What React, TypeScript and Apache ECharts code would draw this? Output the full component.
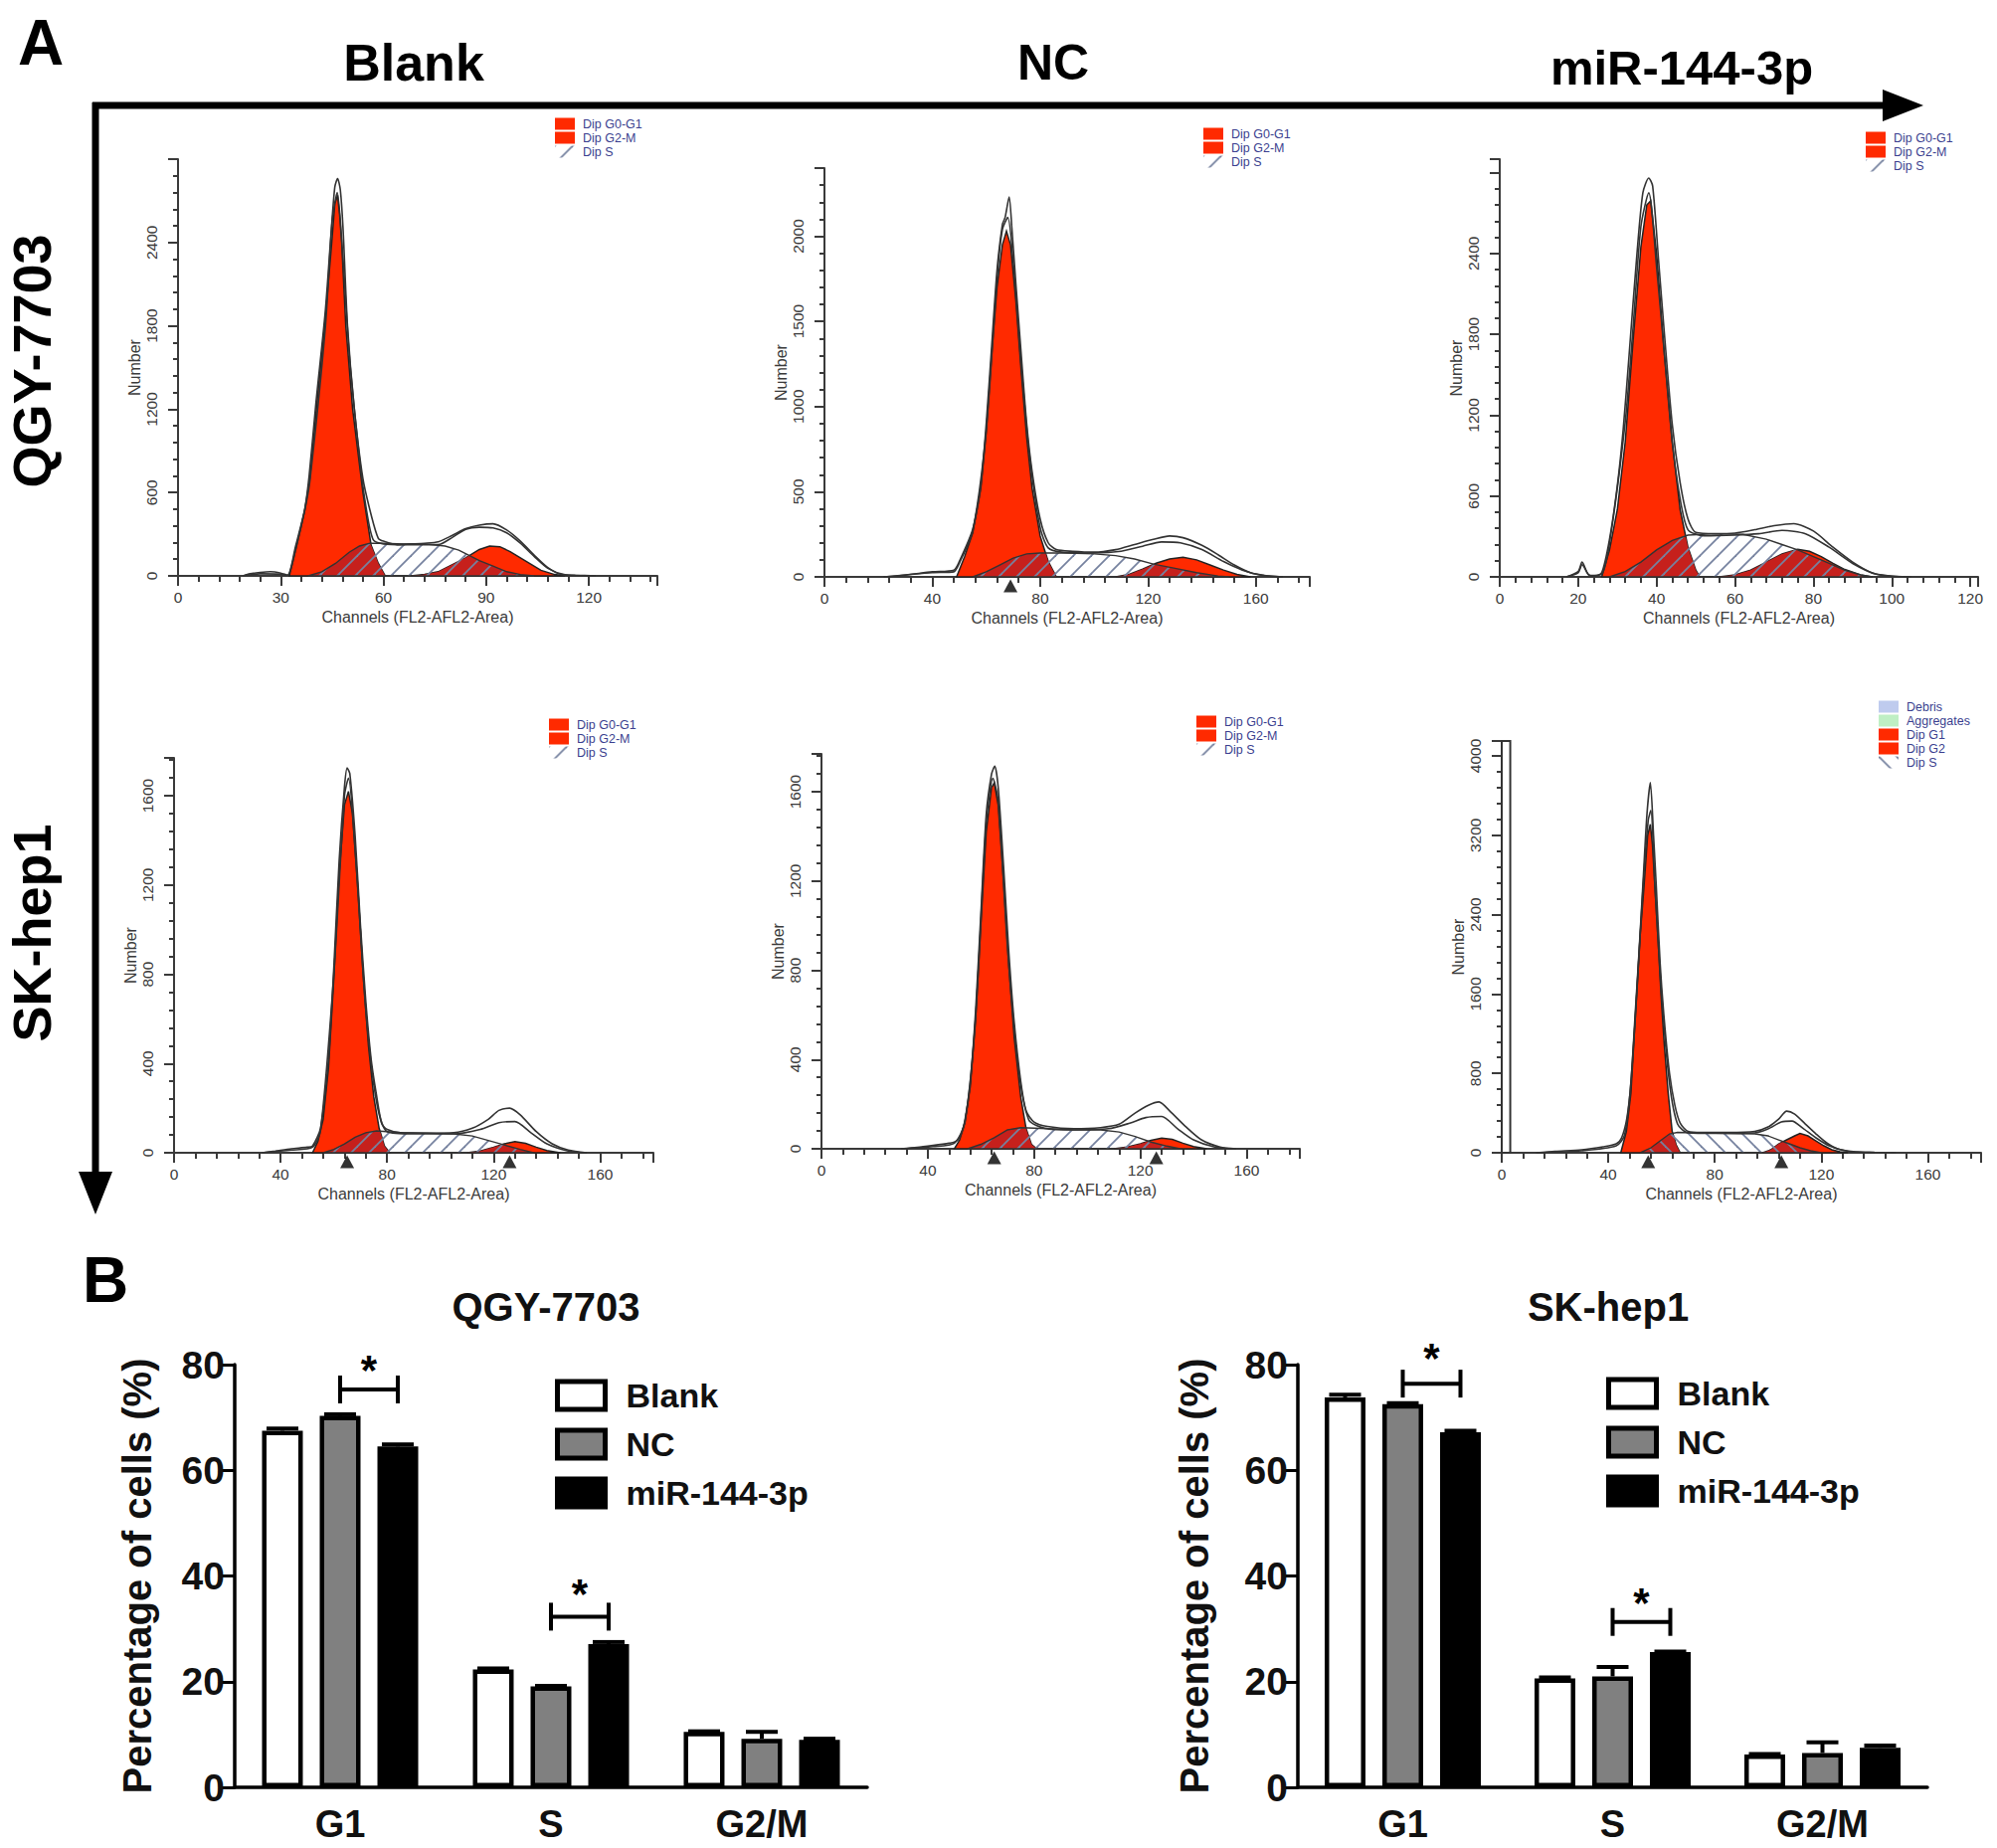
import React, { useEffect, useRef } from "react";
import * as echarts from "echarts";

type Pt = number[];

// ---------- Panel A: channel / count curves ----------
const p1G1: Pt[] = [[32.5,0],[34.5,200],[37,470],[38.5,700],[40.5,1230],[43,1850],[44.9,2400],[45.8,2680],[46.6,2740],[47.2,2600],[47.8,2400],[49,1800],[51,1200],[54,600],[56.4,220],[58.5,90],[60.5,0]];
const p1S: Pt[] = [[38,0],[42,30],[46,90],[50,170],[53,215],[56,235],[60,235],[66,230],[72,230],[78,215],[82,185],[84,160],[88,110],[92,70],[96,30],[100,10],[104,0]];
const p1G2: Pt[] = [[68,0],[72,10],[76,30],[80,80],[84,130],[88,190],[91,215],[94,210],[97,175],[100,130],[103,85],[106,40],[110,10],[113,0]];
const p1Env1: Pt[] = [[19,0],[21,15],[24,25],[27,30],[30,20],[32,5],[34.3,210],[37,480],[38.3,720],[40.3,1250],[43,1900],[44.8,2500],[45.8,2800],[46.6,2860],[47.4,2780],[48.2,2500],[49.5,1800],[51.5,1200],[54,700],[56.5,430],[58.5,270],[60,250],[64,225],[68,230],[72,235],[76,245],[80,290],[84,340],[88,365],[92,375],[96,330],[100,250],[104,150],[108,60],[112,10],[116,5],[122,0]];
const p1Env2: Pt[] = [[19,0],[24,15],[30,12],[32,3],[34.4,200],[37,470],[38.5,680],[43,1780],[45,2550],[46.5,2760],[48,2350],[50,1600],[53,850],[55,480],[57,260],[60,230],[66,225],[72,225],[76,225],[80,275],[84,335],[88,350],[92,345],[96,310],[100,235],[104,140],[108,55],[113,8],[120,0]];

const p2G1: Pt[] = [[49,0],[52,120],[55,260],[58,520],[60,850],[62,1300],[64,1700],[66,1950],[67.5,2030],[69,1950],[71,1620],[73,1200],[75,820],[77,520],[80,240],[83,90],[86,0]];
const p2S: Pt[] = [[55,0],[60,30],[65,70],[70,110],[75,135],[80,140],[90,140],[100,135],[108,125],[115,105],[122,75],[130,50],[138,25],[146,5],[150,0]];
const p2G2: Pt[] = [[108,0],[113,15],[118,45],[123,80],[128,105],[133,115],[138,100],[143,70],[148,40],[153,15],[158,0]];
const p2Env1: Pt[] = [[22,0],[30,10],[40,30],[48,40],[50,90],[55,280],[58,540],[60,900],[62,1350],[64,1800],[66,2070],[67,2110],[68.5,2230],[69.5,2050],[71,1720],[73,1300],[75,900],[77,620],[80,340],[83,200],[86,160],[92,150],[100,145],[108,160],[115,190],[122,220],[128,240],[133,230],[140,185],[146,130],[152,70],[158,25],[165,5],[170,0]];
const p2Env2: Pt[] = [[22,0],[40,25],[48,30],[50,80],[55,270],[60,860],[64,1750],[66,2040],[68,2110],[70,1850],[73,1240],[76,720],[80,290],[83,170],[88,145],[100,140],[110,150],[118,180],[125,205],[132,200],[140,160],[148,90],[155,40],[162,10],[170,0]];

const p3G1: Pt[] = [[26,0],[28,200],[30,500],[32,1000],[34,1750],[36,2450],[37.5,2760],[38.5,2790],[40,2400],[42,1650],[44,1000],[46,500],[48,220],[50,50],[51,0]];
const p3S: Pt[] = [[28,0],[32,40],[36,110],[40,200],[44,270],[48,310],[55,320],[62,315],[68,280],[72,240],[76,200],[80,150],[84,100],[88,50],[92,15],[95,0]];
const p3G2: Pt[] = [[56,0],[60,15],[64,50],[68,110],[72,170],[76,205],[79,190],[82,150],[85,100],[88,55],[92,15],[95,0]];
const p3Env1: Pt[] = [[17,0],[20,40],[21,110],[22.5,20],[24,5],[26,30],[28,280],[30,680],[31.5,1100],[33,1650],[35,2400],[36.5,2850],[38,2960],[39,2900],[40.5,2350],[42,1800],[44,1130],[46,700],[48,430],[50,330],[55,320],[60,325],[65,350],[70,380],[75,395],[80,340],[85,220],[90,110],[95,30],[100,5],[105,0]];
const p3Env2: Pt[] = [[17,0],[20,30],[21,90],[23,10],[26,20],[28,250],[32,1150],[34,1850],[36,2600],[38,2850],[40,2300],[42,1650],[44,1000],[46,580],[48,350],[52,305],[60,310],[66,320],[72,345],[78,320],[84,220],[90,100],[96,20],[104,0]];

const p4G1: Pt[] = [[52,0],[54,50],[56,150],[58,380],[60,780],[62,1250],[64,1560],[65.5,1620],[67,1520],[69,1190],[71,800],[73,480],[75,250],[77,110],[79,30],[81,0]];
const p4S: Pt[] = [[56,0],[60,15],[64,40],[68,70],[72,90],[76,98],[85,90],[95,88],[105,85],[112,75],[118,55],[124,35],[130,15],[135,0]];
const p4G2: Pt[] = [[110,0],[115,8],[120,25],[124,40],[128,50],[132,42],[136,25],[140,10],[145,0]];
const p4Env1: Pt[] = [[33,0],[38,8],[44,18],[50,25],[52,30],[55,110],[58,420],[60,830],[62,1310],[64,1640],[65,1725],[66,1700],[68,1420],[70,1020],[72,680],[74,420],[76,260],[78,130],[80,105],[85,90],[95,88],[105,90],[112,110],[118,150],[122,190],[126,200],[130,170],[136,95],[142,40],[148,12],[155,0]];
const p4Env2: Pt[] = [[33,0],[44,12],[52,25],[55,100],[60,800],[64,1600],[65.5,1680],[68,1360],[72,640],[76,230],[80,95],[90,85],[105,85],[115,105],[122,135],[128,140],[134,90],[140,40],[148,8],[155,0]];

const p5G1: Pt[] = [[50,0],[52,40],[54,120],[56,280],[58,580],[60,1010],[62,1420],[64,1620],[65,1640],[66.5,1540],[68.5,1200],[70.5,820],[72.5,500],[75,230],[77,90],[79,20],[81,0]];
const p5S: Pt[] = [[55,0],[60,20],[65,50],[70,85],[75,95],[85,90],[95,85],[105,85],[112,75],[118,55],[124,30],[130,12],[135,0]];
const p5G2: Pt[] = [[110,0],[115,8],[120,22],[124,38],[128,48],[132,42],[136,25],[140,10],[145,0]];
const p5Env1: Pt[] = [[30,0],[36,6],[42,15],[48,25],[50,30],[52,50],[54,130],[56,300],[58,620],[60,1060],[62,1500],[64,1680],[65.2,1715],[66.5,1620],[68.5,1270],[70.5,880],[72.5,570],[75,300],[77,170],[80,120],[85,100],[95,90],[105,95],[112,110],[118,160],[123,195],[127,210],[131,170],[137,100],[143,40],[150,8],[156,0]];
const p5Env2: Pt[] = [[30,0],[42,10],[50,25],[54,120],[58,590],[62,1460],[64.5,1660],[66.5,1560],[70,900],[74,370],[78,130],[84,92],[95,85],[108,90],[116,115],[122,140],[128,145],[134,90],[140,40],[148,8],[156,0]];

const p6G1: Pt[] = [[44.7,0],[46.8,215],[48.5,600],[49.8,1200],[50.7,1600],[52,2200],[53.3,2640],[54.8,3200],[55.8,3310],[56.6,3100],[57.6,2640],[58.8,2100],[59.8,1600],[61,1100],[62.5,600],[64,215],[65.5,80],[67,0]];
const p6S: Pt[] = [[52,0],[56,50],[60,130],[63,190],[66,205],[75,200],[85,195],[95,190],[100,170],[104,130],[108,90],[112,50],[116,20],[120,0]];
const p6G2: Pt[] = [[98,0],[101,30],[104,90],[107,130],[110,170],[112,195],[115,170],[118,120],[121,70],[124,30],[127,10],[130,0]];
const p6Env1: Pt[] = [[13,0],[20,15],[30,30],[38,60],[43,90],[45,150],[47,350],[48.5,700],[50,1350],[51.5,2000],[53,2700],[54.5,3400],[55.8,3730],[57,3200],[58,2700],[59.5,1900],[61,1350],[63,800],[65,480],[67,300],[70,215],[75,205],[85,205],[95,215],[100,260],[104,340],[107,420],[110,390],[114,290],[118,190],[122,100],[126,40],[132,12],[140,5],[148,0]];
const p6Env2: Pt[] = [[13,0],[30,20],[43,70],[46,170],[48,550],[50,1300],[53,2650],[55,3350],[56,3450],[57.5,2700],[60,1600],[63,700],[66,290],[70,200],[80,195],[95,200],[100,240],[105,310],[109,320],[113,250],[118,150],[123,70],[130,15],[140,0]];
const p6Debris: Pt[] = [[0,0],[0,4150],[3.2,4150],[3.2,0]];

const p2Marks = [69];
const p4Marks = [65, 126];
const p5Marks = [65, 126];
const p6Marks = [55, 105];

const legendStd = ["Dip G0-G1", "Dip G2-M", "Dip S"];
const legendSk = ["Debris", "Aggregates", "Dip G1", "Dip G2", "Dip S"];
const columnTitles = ["Blank", "NC", "miR-144-3p"];
const rowTitles = ["QGY-7703", "SK-hep1"];

// ---------- Panel B ----------
const phases = ["G1", "S", "G2/M"];
const groups = ["Blank", "NC", "miR-144-3p"];
const qgyBlank = [67.5, 22.3, 10.5];
const qgyNC = [70.3, 19.1, 9.2];
const qgyMiR = [64.5, 27.1, 9.0];
const qgyBlankErr = [0.4, 0.2, 0.1];
const qgyNCErr = [0.3, 0.1, 1.3];
const qgyMiRErr = [0.4, 0.4, 0.2];
const qgySig = [[0, 75.3, 79], [1, 32.3, 36.7]];
const skBlank = [73.8, 20.6, 6.2];
const skNC = [72.5, 21.0, 6.5];
const skMiR = [67.2, 25.6, 7.5];
const skBlankErr = [0.5, 0.2, 0.1];
const skNCErr = [0.2, 1.8, 2.0];
const skMiRErr = [0.3, 0.1, 0.4];
const skSig = [[0, 76.4, 81.3], [1, 31.3, 35]];

const FONT = "Liberation Sans";
const RED = "#FF2A00";
const INK = "#3a3a3a";

function hatch(forward: boolean) {
  const n = 18;
  const c = document.createElement("canvas");
  c.width = n;
  c.height = n;
  const g = c.getContext("2d")!;
  g.strokeStyle = "#76829f";
  g.lineWidth = 1.8;
  const seg = (a: number, b: number, d: number, e: number) => {
    g.beginPath();
    g.moveTo(a, b);
    g.lineTo(d, e);
    g.stroke();
  };
  if (forward) {
    seg(-2, n + 2, n + 2, -2);
    seg(-2, 2, 2, -2);
    seg(n - 2, n + 2, n + 2, n - 2);
  } else {
    seg(-2, -2, n + 2, n + 2);
    seg(-2, n - 2, 2, n + 2);
    seg(n - 2, -2, n + 2, 2);
  }
  return { image: c, repeat: "repeat" };
}

function at(a: Pt[], x: number) {
  if (x <= a[0][0] || x >= a[a.length - 1][0]) return 0;
  for (let i = 1; i < a.length; i++) {
    if (x <= a[i][0]) {
      const t = (x - a[i - 1][0]) / (a[i][0] - a[i - 1][0]);
      return a[i - 1][1] + t * (a[i][1] - a[i - 1][1]);
    }
  }
  return 0;
}

// the darker red where the S phase lies over a red peak
function shared(a: Pt[], b: Pt[]) {
  const lo = Math.max(a[0][0], b[0][0]);
  const hi = Math.min(a[a.length - 1][0], b[b.length - 1][0]);
  const out: Pt[] = [[lo, 0]];
  for (let x = lo; x <= hi; x += 0.5) out.push([x, Math.min(at(a, x), at(b, x))]);
  out.push([hi, 0]);
  return out;
}

function polygon(name: string, pts: Pt[], grid: number, style: any, color: any) {
  return {
    type: "custom",
    name,
    coordinateSystem: "cartesian2d",
    xAxisIndex: grid,
    yAxisIndex: grid,
    silent: true,
    data: pts,
    encode: { x: 0, y: 1 },
    itemStyle: { color },
    renderItem: (params: any, api: any) =>
      params.dataIndex === 0
        ? { type: "polygon", shape: { points: pts.map((p) => api.coord(p)) }, style }
        : null,
  };
}

function curve(name: string, pts: Pt[], grid: number) {
  return {
    type: "line",
    name,
    xAxisIndex: grid,
    yAxisIndex: grid,
    data: pts,
    showSymbol: false,
    silent: true,
    smooth: 0.25,
    lineStyle: { color: "#333", width: 1.6 },
  };
}

export default function App() {
  const ref = useRef<HTMLDivElement>(null);
  useEffect(() => {
    document.body.style.margin = "0";
    const chart = echarts.init(ref.current!, undefined, { renderer: "svg" });
    const fwd = hatch(true);
    const back = hatch(false);

    const panels = [
      { g: [179, 160, 482, 419], xMax: 140, xInt: 30, yMax: 3000, yInt: 600, yTop: 2400, G1: p1G1, S: p1S, G2: p1G2, e1: p1Env1, e2: p1Env2, marks: [], leg: [558, 118] },
      { g: [829, 169, 488, 411], xMax: 180, xInt: 40, yMax: 2400, yInt: 500, yTop: 2000, G1: p2G1, S: p2S, G2: p2G2, e1: p2Env1, e2: p2Env2, marks: p2Marks, leg: [1210, 128] },
      { g: [1508, 160, 481, 420], xMax: 122, xInt: 20, yMax: 3100, yInt: 600, yTop: 2400, G1: p3G1, S: p3S, G2: p3G2, e1: p3Env1, e2: p3Env2, marks: [], leg: [1876, 132] },
      { g: [175, 762, 482, 397], xMax: 180, xInt: 40, yMax: 1770, yInt: 400, yTop: 1600, G1: p4G1, S: p4S, G2: p4G2, e1: p4Env1, e2: p4Env2, marks: p4Marks, leg: [552, 722] },
      { g: [826, 758, 481, 397], xMax: 180, xInt: 40, yMax: 1770, yInt: 400, yTop: 1600, G1: p5G1, S: p5S, G2: p5G2, e1: p5Env1, e2: p5Env2, marks: p5Marks, leg: [1203, 719] },
      { g: [1510, 745, 482, 414], xMax: 180, xInt: 40, yMax: 4150, yInt: 800, yTop: 4000, G1: p6G1, S: p6S, G2: p6G2, e1: p6Env1, e2: p6Env2, marks: p6Marks, leg: [1889, 704] },
    ];

    const grids: any[] = [];
    const xAxes: any[] = [];
    const yAxes: any[] = [];
    const series: any[] = [];
    const legends: any[] = [];
    const tickStyle = { color: INK, width: 2 };

    panels.forEach((p, i) => {
      const sk = i === 5;
      const pattern = sk ? back : fwd;
      const g1Name = sk ? "Dip G1" : "Dip G0-G1";
      const g2Name = sk ? "Dip G2" : "Dip G2-M";
      grids.push({ left: p.g[0], top: p.g[1], width: p.g[2], height: p.g[3] });
      xAxes.push({
        type: "value",
        gridIndex: i,
        min: 0,
        max: p.xMax,
        interval: p.xInt,
        name: "Channels (FL2-AFL2-Area)",
        nameLocation: "middle",
        nameGap: 33,
        nameTextStyle: { fontFamily: FONT, fontSize: 16, color: INK },
        splitLine: { show: false },
        axisLine: { onZero: false, lineStyle: { color: INK, width: 2 } },
        axisTick: { length: 10, lineStyle: tickStyle },
        minorTick: { show: true, splitNumber: 5, length: 6, lineStyle: tickStyle },
        axisLabel: { fontFamily: FONT, fontSize: 15.5, color: INK, margin: 13, showMaxLabel: false },
      });
      yAxes.push({
        type: "value",
        gridIndex: i,
        min: 0,
        max: p.yMax,
        interval: p.yInt,
        name: "Number",
        nameLocation: "middle",
        nameGap: 34,
        nameTextStyle: { fontFamily: FONT, fontSize: 16, color: INK },
        splitLine: { show: false },
        axisLine: { onZero: false, lineStyle: { color: INK, width: 2 } },
        axisTick: { length: 10, lineStyle: tickStyle },
        minorTick: { show: true, splitNumber: 5, length: 5, lineStyle: tickStyle },
        axisLabel: {
          fontFamily: FONT,
          fontSize: 15.5,
          color: INK,
          margin: 19,
          rotate: 90,
          formatter: (v: number) => (v > p.yTop ? "" : String(v)),
        },
      });
      if (sk) {
        series.push(polygon("Debris", p6Debris, i, { fill: "#fff", stroke: "#333", lineWidth: 2 }, "#BFCBEE"));
        series.push({ type: "custom", name: "Aggregates", coordinateSystem: "cartesian2d", xAxisIndex: i, yAxisIndex: i, data: [], itemStyle: { color: "#BFEFC4" }, renderItem: () => null });
      }
      series.push(polygon(g1Name, p.G1, i, { fill: RED, stroke: "#222", lineWidth: 1.5 }, RED));
      series.push(polygon(g2Name, p.G2, i, { fill: RED, stroke: "#222", lineWidth: 1.5 }, RED));
      series.push(polygon("overlap G1", shared(p.G1, p.S), i, { fill: "#C6201C" }, "#C6201C"));
      series.push(polygon("overlap G2", shared(p.G2, p.S), i, { fill: "#C6201C" }, "#C6201C"));
      series.push(polygon("Dip S", p.S, i, { fill: pattern, stroke: "#333", lineWidth: 1.4 }, pattern));
      series.push(curve("fit outer", p.e1, i));
      series.push(curve("fit inner", p.e2, i));
      if (p.marks.length) {
        series.push({
          type: "scatter",
          name: "peak marks",
          xAxisIndex: i,
          yAxisIndex: i,
          clip: false,
          silent: true,
          symbol: "triangle",
          symbolSize: [14, 13],
          symbolOffset: [0, 9],
          itemStyle: { color: "#000" },
          data: p.marks.map((m) => [m, 0]),
        });
      }
      legends.push({
        left: p.leg[0],
        top: p.leg[1],
        orient: "vertical",
        itemWidth: 20,
        itemHeight: 12,
        itemGap: 1,
        icon: "rect",
        selectedMode: false,
        padding: 0,
        textStyle: { fontFamily: FONT, fontSize: 12.5, color: "#3b3f8f", padding: [0, 0, 0, 3] },
        data: (sk ? legendSk : legendStd).map((n) => ({
          name: n,
          icon: "rect",
          itemStyle: n === "Dip S" ? { color: pattern, borderWidth: 0 } : { borderWidth: 0 },
        })),
      });
    });

    const barSets = [
      { g: [236, 1372, 636, 425], vals: [qgyBlank, qgyNC, qgyMiR], errs: [qgyBlankErr, qgyNCErr, qgyMiRErr], sig: qgySig, leg: [558, 1386], gap: 78 },
      { g: [1305, 1372, 633, 425], vals: [skBlank, skNC, skMiR], errs: [skBlankErr, skNCErr, skMiRErr], sig: skSig, leg: [1615, 1384], gap: 84 },
    ];
    const fills = ["#fff", "#808080", "#000"];
    const STEP = 58;

    barSets.forEach((b, j) => {
      const i = 6 + j;
      grids.push({ left: b.g[0], top: b.g[1], width: b.g[2], height: b.g[3] });
      xAxes.push({
        type: "category",
        gridIndex: i,
        data: phases,
        axisLine: { lineStyle: { color: "#000", width: 3.5 } },
        axisTick: { alignWithLabel: true, length: 14, lineStyle: { color: "#000", width: 3 } },
        axisLabel: { fontFamily: FONT, fontWeight: "bold", fontSize: 38, color: "#111", margin: 18 },
      });
      yAxes.push({
        type: "value",
        gridIndex: i,
        min: 0,
        max: 80,
        interval: 20,
        name: "Percentage of cells (%)",
        nameLocation: "middle",
        nameGap: b.gap,
        nameTextStyle: { fontFamily: FONT, fontWeight: "bold", fontSize: 40, color: "#111" },
        splitLine: { show: false },
        axisLine: { show: true, lineStyle: { color: "#000", width: 3.5 } },
        axisTick: { show: true, length: 14, lineStyle: { color: "#000", width: 3 } },
        axisLabel: { fontFamily: FONT, fontWeight: "bold", fontSize: 39, color: "#111", margin: 10 },
      });
      groups.forEach((name, k) => {
        series.push({
          type: "bar",
          name,
          xAxisIndex: i,
          yAxisIndex: i,
          data: b.vals[k],
          barWidth: 41,
          barGap: "41.5%",
          itemStyle: { color: fills[k], borderColor: "#000", borderWidth: 4.5 },
          silent: true,
        });
      });
      groups.forEach((name, k) => {
        series.push({
          type: "custom",
          name: name + " error",
          coordinateSystem: "cartesian2d",
          xAxisIndex: i,
          yAxisIndex: i,
          silent: true,
          encode: { x: 0, y: 1 },
          data: b.vals[k].map((v, n) => [n, v, b.errs[k][n]]),
          renderItem: (_: any, api: any) => {
            const cx = api.coord([api.value(0), 0])[0] + (k - 1) * STEP;
            const y1 = api.coord([0, api.value(1)])[1];
            const y2 = api.coord([0, api.value(1) + api.value(2)])[1];
            const s = { stroke: "#000", lineWidth: 4 };
            return {
              type: "group",
              children: [
                { type: "line", shape: { x1: cx, y1, x2: cx, y2 }, style: s },
                { type: "line", shape: { x1: cx - 16, y1: y2, x2: cx + 16, y2 }, style: s },
              ],
            };
          },
        });
      });
      series.push({
        type: "custom",
        name: "significance",
        coordinateSystem: "cartesian2d",
        xAxisIndex: i,
        yAxisIndex: i,
        silent: true,
        clip: false,
        encode: { x: 0, y: 1 },
        data: b.sig,
        renderItem: (_: any, api: any) => {
          const cx = api.coord([api.value(0), 0])[0];
          const y = api.coord([0, api.value(1)])[1];
          const star = api.coord([0, api.value(2)])[1];
          const s = { stroke: "#000", lineWidth: 4 };
          const x2 = cx + STEP;
          return {
            type: "group",
            children: [
              { type: "line", shape: { x1: cx, y1: y, x2, y2: y }, style: s },
              { type: "line", shape: { x1: cx, y1: y - 14, x2: cx, y2: y + 14 }, style: s },
              { type: "line", shape: { x1: x2, y1: y - 14, x2, y2: y + 14 }, style: s },
              {
                type: "text",
                x: (cx + x2) / 2,
                y: star,
                style: { text: "*", fontFamily: FONT, fontWeight: "bold", fontSize: 42, fill: "#000", align: "center", verticalAlign: "middle" },
              },
            ],
          };
        },
      });
      legends.push({
        left: b.leg[0],
        top: b.leg[1],
        orient: "vertical",
        itemWidth: 48,
        itemHeight: 28,
        itemGap: 15,
        icon: "rect",
        selectedMode: false,
        padding: 0,
        textStyle: { fontFamily: FONT, fontWeight: "bold", fontSize: 34, color: "#111", padding: [0, 0, 0, 16] },
        data: groups.map((n) => ({ name: n, icon: "rect", itemStyle: { borderColor: "#000", borderWidth: 5 } })),
      });
    });

    const text = (t: string, x: number, y: number, size: number, rot = 0) => ({
      type: "text",
      x,
      y,
      rotation: rot,
      silent: true,
      style: { text: t, fontFamily: FONT, fontWeight: "bold", fontSize: size, fill: "#000", align: "center", verticalAlign: "middle" },
    });

    chart.setOption({
      animation: false,
      backgroundColor: "#fff",
      title: [
        { text: rowTitles[0], left: 544, top: 1289, textAlign: "center", textStyle: { fontFamily: FONT, fontWeight: "bold", fontSize: 40, color: "#111" } },
        { text: rowTitles[1], left: 1612, top: 1289, textAlign: "center", textStyle: { fontFamily: FONT, fontWeight: "bold", fontSize: 40, color: "#111" } },
      ],
      grid: grids,
      xAxis: xAxes,
      yAxis: yAxes,
      legend: legends,
      series,
      graphic: [
        text("A", 41, 43, 64),
        text("B", 106, 1287, 64),
        text(columnTitles[0], 416, 63, 52),
        text(columnTitles[1], 1059, 63, 50),
        text(columnTitles[2], 1691, 68, 49),
        text(rowTitles[0], 32, 363, 54, Math.PI / 2),
        text(rowTitles[1], 32, 938, 54, Math.PI / 2),
        { type: "line", shape: { x1: 93, y1: 106, x2: 1896, y2: 106 }, style: { stroke: "#000", lineWidth: 7 } },
        { type: "polygon", shape: { points: [[1893, 90], [1934, 106], [1893, 122]] }, style: { fill: "#000" } },
        { type: "line", shape: { x1: 96, y1: 103, x2: 96, y2: 1181 }, style: { stroke: "#000", lineWidth: 7 } },
        { type: "polygon", shape: { points: [[79, 1178], [96, 1221], [113, 1178]] }, style: { fill: "#000" } },
      ],
    });
    return () => chart.dispose();
  }, []);
  return <div ref={ref} style={{ position: "absolute", left: 0, top: 0, width: 2008, height: 1858 }} />;
}
